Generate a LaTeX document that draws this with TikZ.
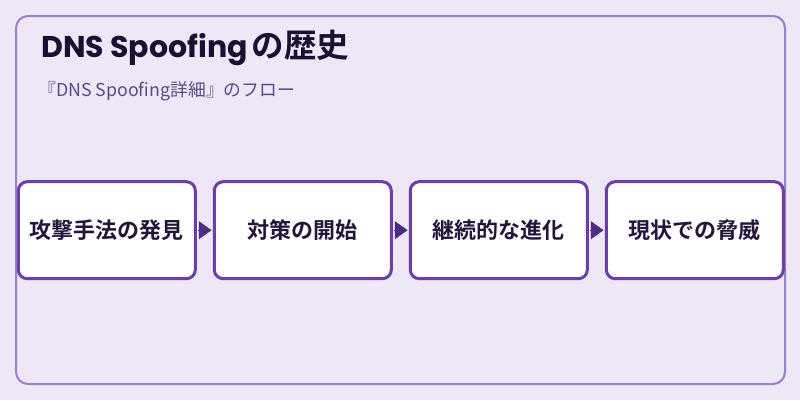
\documentclass[tikz,border=0pt]{standalone}
\usepackage{fontspec}
\setmainfont{Noto Sans CJK JP}[BoldFont={Noto Sans CJK JP Bold}]
\newfontfamily\titlelatin{Poppins}
\usetikzlibrary{positioning,arrows.meta}
\definecolor{bgpurple}{HTML}{EDE7F6}
\definecolor{framepurple}{HTML}{9D7FD0}
\definecolor{boxpurple}{HTML}{6A3FA6}
\definecolor{tippurple}{HTML}{4E2C86}
\definecolor{titleink}{HTML}{1C0F33}
\definecolor{subink}{HTML}{5C4A86}
\definecolor{boxink}{HTML}{24163A}
\tikzset{
	stagebox/.style={draw=boxpurple, fill=white, line width=3pt, rounded corners=9pt,
		minimum width=177pt, minimum height=97pt, outer sep=0pt, inner sep=0pt,
		font=\fontsize{22pt}{24pt}\selectfont\bfseries, text=boxink},
	flow/.style={-{Triangle[length=12.7pt,width=18pt]}, draw=tippurple, fill=tippurple,
		line width=0.5pt, shorten <=2.4pt, shorten >=2.8pt}
}

\begin{document}
\begin{tikzpicture}[x=1pt, y=-1pt]
		%%%%% START %%%%%
		
		\useasboundingbox (0, 0) rectangle (800, 400);
		\fill[bgpurple] (0, 0) rectangle (800, 400);
		\draw[framepurple, line width=2pt, rounded corners=12pt] (16, 16) rectangle (785, 384);
		
		\node[anchor=base west, text=titleink, inner sep=0pt, font=\fontsize{32.5pt}{34pt}\selectfont\bfseries] (title) at (41, 57) {{\fontsize{30pt}{34pt}\selectfont\titlelatin DNS Spoofing}\hspace{4pt}の歴史};
		\node[anchor=base west, text=subink, inner sep=0pt, font=\fontsize{17.8pt}{20pt}\selectfont] (subtitle) at (38, 96) {『DNS Spoofing詳細』のフロー};
		
		\node[stagebox] (discover) at (106.8, 230.2) {攻撃手法の発見};
		\node[stagebox, right=19pt of discover] (counter) {対策の開始};
		\node[stagebox, right=19pt of counter] (evolve) {継続的な進化};
		\node[stagebox, right=19pt of evolve] (threat) {現状での脅威};
		
		\draw[flow] (discover) -- (counter);
		\draw[flow] (counter) -- (evolve);
		\draw[flow] (evolve) -- (threat);
		
		%%%%% END %%%%%
	\end{tikzpicture}
\end{document}
